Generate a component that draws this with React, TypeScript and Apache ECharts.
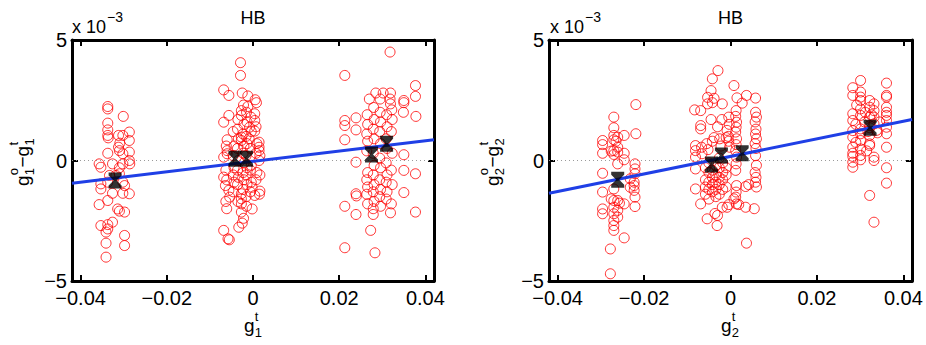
import React, { useEffect, useRef } from 'react';
import * as echarts from 'echarts';

const xTicks = [-0.04, -0.02, 0, 0.02, 0.04];
const xMin = -0.042;
const xMax = 0.042;
const yMin = -5;
const yMax = 5;
const yInterval = 5;
const titles = ['HB', 'HB'];

// y values in units of 1e-3
const leftPoints: number[][] = [
  // cluster near -0.031
  [-0.0337, 2.24], [-0.0337, 2.14], [-0.0301, 1.83], [-0.0337, 1.55], [-0.0337, 1.27], [-0.0337, 1.04],
  [-0.0336, 0.94], [-0.0312, 1.04], [-0.0302, 1.04], [-0.0287, 1.18], [-0.0287, 0.83], [-0.0312, 0.55],
  [-0.0310, 0.41], [-0.0302, 0.28], [-0.0287, 0.35], [-0.0337, 0.30], [-0.0357, -0.14], [-0.0353, -0.28],
  [-0.0326, -0.14], [-0.0302, -0.14], [-0.0287, 0.0], [-0.0286, -0.14], [-0.0353, -0.97], [-0.0353, -1.18],
  [-0.0337, -0.90], [-0.0333, -0.62], [-0.0318, -0.62], [-0.0310, -0.55], [-0.0302, -0.90], [-0.0298, -1.04],
  [-0.0326, -1.36], [-0.0302, -1.36], [-0.0287, -1.38], [-0.0357, -1.83], [-0.0337, -1.66], [-0.0314, -2.01],
  [-0.0310, -2.10], [-0.0298, -2.14], [-0.0353, -2.70], [-0.0337, -2.66], [-0.0337, -2.84], [-0.0341, -2.97],
  [-0.0326, -2.56], [-0.0298, -3.11], [-0.0298, -3.53], [-0.0341, -3.43], [-0.0341, -4.01], [-0.0309, 0.72],
  [-0.0310, -0.30],
  // cluster near -0.003
  [-0.0029, 4.06], [-0.0029, 3.53], [-0.0068, 2.93], [-0.0056, 2.70], [-0.0025, 2.80], [-0.0012, 2.68],
  [0.0005, 2.52], [-0.0012, 2.24], [-0.0027, 2.07], [-0.0027, 1.87], [-0.0056, 1.87], [-0.0068, 1.59],
  [0.0004, 1.94], [0.0004, 1.66], [-0.0008, 1.38], [0.0004, 1.22], [-0.0027, 0.97], [-0.0027, 0.83],
  [-0.0060, 0.86], [-0.0009, 0.90], [0.0014, 0.76], [0.0014, 0.55], [0.0014, 0.41], [0.0014, 0.0],
  [-0.0060, 0.41], [-0.0060, 0.28], [-0.0068, 0.14], [-0.0068, -0.69], [-0.0064, -1.04], [-0.0056, -1.24],
  [-0.0054, -1.52], [-0.0027, -1.38], [-0.0027, -1.59], [-0.0027, -1.80], [-0.0002, -1.11], [0.0016, -1.27],
  [0.0004, -1.45], [-0.0027, -2.14], [-0.0002, -2.01], [-0.0068, -2.90], [-0.0058, -3.25], [-0.0055, -3.29],
  [-0.0033, -2.77], [-0.0025, -2.60],
  [-0.0046, 1.2], [-0.0044, 0.6], [-0.0046, 0.2], [-0.0044, -0.3], [-0.0046, -0.6], [-0.0044, -0.9], [-0.0046, -1.3],
  [-0.0035, 1.7], [-0.0036, 1.3], [-0.0034, 0.9], [-0.0036, 0.5], [-0.0034, 0.0], [-0.0036, -0.4], [-0.0034, -0.7],
  [-0.0036, -1.0], [-0.0035, -1.7],
  [-0.0022, 2.3], [-0.0021, 1.5], [-0.0023, 1.1], [-0.0021, 0.6], [-0.0023, 0.3], [-0.0021, -0.1], [-0.0023, -0.5],
  [-0.0021, -0.8], [-0.0023, -1.2], [-0.0022, -2.4],
  [-0.0015, 2.0], [-0.0014, 1.6], [-0.0016, 1.0], [-0.0014, 0.7], [-0.0016, 0.2], [-0.0014, -0.3], [-0.0016, -0.6],
  [-0.0014, -1.0], [-0.0016, -1.5], [-0.0015, -1.9],
  [-0.0005, 1.8], [-0.0004, 1.2], [-0.0006, 0.5], [-0.0004, -0.2], [-0.0006, -0.4], [-0.0004, -0.9], [-0.0006, -1.3],
  [0.0008, 2.4], [0.0007, 1.4], [0.0009, 0.7], [0.0007, 0.3], [0.0009, -0.5], [0.0007, -0.8],
  [-0.0062, 0.6], [-0.0063, -0.4], [-0.0061, -0.8], [-0.0063, -1.7], [-0.0061, -2.0],
  [0.0016, 0.2], [0.0016, -0.6], [0.0015, -1.4],
  // cluster near 0.029
  [0.0318, 4.50], [0.0213, 3.53], [0.0377, 3.11], [0.0377, 2.66], [0.0378, 1.83], [0.0350, 2.49],
  [0.0350, 2.40], [0.0349, 2.00], [0.0213, 1.66], [0.0213, 1.45], [0.0239, 1.77], [0.0239, 1.27],
  [0.0213, 0.86], [0.0239, -0.07], [0.0213, -1.90], [0.0239, -1.38], [0.0240, -1.47], [0.0239, -2.24],
  [0.0213, -3.62], [0.0283, -3.83], [0.0273, -2.90], [0.0279, -2.24], [0.0319, -2.17], [0.0350, 0.24],
  [0.0350, -0.41], [0.0350, -1.33], [0.0377, -0.55], [0.0377, -2.14],
  [0.0285, 2.80], [0.0302, 2.80], [0.0319, 2.80], [0.0270, 2.55], [0.0295, 2.55], [0.0318, 2.55], [0.0319, 2.35],
  [0.0265, 1.9], [0.0266, 1.5], [0.0264, 1.1], [0.0266, 0.8], [0.0264, 0.4], [0.0266, -0.5], [0.0264, -0.8],
  [0.0266, -1.1], [0.0264, -1.4], [0.0266, -1.8],
  [0.0280, 2.2], [0.0281, 1.7], [0.0279, 1.3], [0.0281, 0.9], [0.0279, 0.3], [0.0281, -0.2], [0.0279, -0.6],
  [0.0281, -1.0], [0.0279, -1.3], [0.0281, -1.7], [0.0279, -2.0],
  [0.0295, 2.0], [0.0296, 1.6], [0.0294, 1.2], [0.0296, 0.7], [0.0294, 0.1], [0.0296, -0.3], [0.0294, -0.8],
  [0.0296, -1.2], [0.0294, -1.5], [0.0296, -1.9],
  [0.0310, 1.9], [0.0311, 1.4], [0.0309, 0.9], [0.0311, 0.5], [0.0309, -0.1], [0.0311, -0.6], [0.0309, -0.9],
  [0.0311, -1.3], [0.0309, -1.6],
  [0.0322, 2.1], [0.0323, 1.7], [0.0321, 1.2], [0.0323, 0.3], [0.0321, -0.4], [0.0323, -1.0], [0.0321, -1.8],
];

const rightPoints: number[][] = [
  // cluster near -0.026
  [-0.0296, 0.83], [-0.0296, 0.66], [-0.0296, 0.30], [-0.0296, -0.53], [-0.0296, -1.31], [-0.0296, -2.01],
  [-0.0296, -2.21], [-0.0270, 1.80], [-0.0270, 1.36], [-0.0270, 1.04], [-0.0270, 0.86], [-0.0270, 0.41],
  [-0.0270, 0.25], [-0.0270, -1.18], [-0.0270, -1.66], [-0.0270, -1.94], [-0.0270, -2.21], [-0.0270, -2.49],
  [-0.0270, -2.70], [-0.0270, -2.90], [-0.0278, -3.67], [-0.0278, -4.70], [-0.0261, 0.97], [-0.0261, 0.55],
  [-0.0261, 0.35], [-0.0261, -0.14], [-0.0261, -1.66], [-0.0261, -2.07], [-0.0261, -2.35], [-0.0246, 1.04],
  [-0.0246, 0.30], [-0.0246, 0.03], [-0.0246, -1.80], [-0.0246, -3.21], [-0.0219, 2.32], [-0.0219, 1.11],
  [-0.0221, -0.14], [-0.0221, -0.35], [-0.0221, -0.55], [-0.0223, -0.90], [-0.0223, -1.04], [-0.0223, -1.24],
  [-0.0221, -1.52], [-0.0221, -1.91], [-0.0232, -0.76], [-0.0232, -1.11], [-0.0276, 0.39], [-0.0276, -1.59],
  [-0.0257, -1.77], [-0.0265, 0.80],
  // cluster near 0
  [-0.0029, 3.73], [-0.0042, 3.39], [0.0008, 3.11], [-0.0045, 2.90], [-0.0053, 2.62], [-0.0038, 2.58],
  [-0.0042, 2.40], [-0.0053, 2.35], [-0.0083, 2.10], [-0.0069, 2.07], [-0.0019, 2.35], [0.0015, 2.60],
  [0.0037, 2.70], [0.0058, 2.59], [0.0027, 2.38],
  [0.0058, 2.0], [0.0060, 1.8], [0.0057, 1.6], [0.0059, 1.3], [0.0058, 1.1], [0.0060, 0.9], [0.0057, 0.7],
  [0.0059, 0.5], [0.0058, 0.2], [0.0060, -0.2], [0.0057, -0.5], [0.0059, -0.7], [0.0058, -0.9], [0.0060, -1.1],
  [0.0013, 2.07], [0.0012, 1.83], [0.0014, 1.59], [0.0013, 1.38], [0.0012, 1.18], [0.0014, 0.90], [0.0013, 0.66],
  [0.0012, 0.41], [0.0014, 0.14], [0.0013, -0.14], [0.0012, -0.41], [0.0014, -1.04], [0.0013, -1.31],
  [0.0012, -1.52], [0.0014, -1.80],
  [-0.0004, 1.8], [-0.0003, 1.5], [-0.0005, 1.0], [-0.0004, 0.8], [-0.0002, 0.55],
  [-0.0069, 1.45], [-0.0069, 1.31], [-0.0081, 0.62], [-0.0081, 0.41], [-0.0081, 0.14], [-0.0081, -0.35],
  [-0.0067, 0.55], [-0.0066, 0.28],
  [-0.0055, 0.7], [-0.0052, 0.45], [-0.0042, 0.8], [-0.0038, 0.95], [-0.0025, 0.9], [-0.0022, 0.6],
  [-0.0010, 0.95], [-0.0030, 1.4], [-0.0045, 1.7], [-0.0020, 1.7], [-0.0008, 1.25],
  [-0.0058, -0.3], [-0.0058, -0.8], [-0.0058, -1.1], [-0.0058, -1.4],
  [-0.0050, -0.1], [-0.0050, -0.5], [-0.0050, -0.9], [-0.0050, -1.2], [-0.0050, -1.6],
  [-0.0042, -0.4], [-0.0042, -0.7], [-0.0042, -1.0], [-0.0042, -1.3],
  [-0.0034, -0.2], [-0.0034, -0.6], [-0.0034, -0.9], [-0.0034, -1.2], [-0.0034, -1.5],
  [-0.0026, 0.1], [-0.0026, -0.3], [-0.0026, -0.7], [-0.0026, -1.0], [-0.0026, -1.4],
  [-0.0018, -0.1], [-0.0018, -0.5], [-0.0018, -0.8], [-0.0018, -1.2],
  [-0.0010, -0.3], [-0.0010, -0.6], [-0.0010, -1.1],
  [-0.0081, -1.18], [-0.0069, -1.80], [-0.0054, -2.42], [-0.0031, -2.70], [-0.0036, -2.20], [-0.0030, -2.28],
  [-0.0019, -1.94], [-0.0008, -1.94], [-0.0004, -1.83], [0.0008, -1.59], [0.0019, -1.83], [0.0035, -1.94],
  [0.0055, -2.0], [0.0035, -1.08], [0.0042, -1.0], [0.0037, -3.43],
  // cluster near 0.032
  [0.0283, 3.02], [0.0283, 2.70], [0.0283, 1.94], [0.0283, 1.66], [0.0283, 1.24], [0.0283, 0.97], [0.0283, 0.55],
  [0.0283, 0.30], [0.0283, 0.17], [0.0283, -0.07], [0.0283, -0.28],
  [0.0301, 3.32], [0.0301, 2.84], [0.0301, 2.63], [0.0301, 2.49], [0.0301, 2.14], [0.0301, 1.87], [0.0301, 1.31],
  [0.0301, 1.11], [0.0301, 0.83], [0.0301, 0.48], [0.0301, 0.21], [0.0301, 0.03],
  [0.0322, 2.49], [0.0322, 2.21], [0.0322, 1.80], [0.0322, 1.45], [0.0322, 1.36], [0.0322, 1.04], [0.0322, 0.69],
  [0.0322, 0.62], [0.0322, -1.45],
  [0.0332, 2.35], [0.0332, 2.07], [0.0332, 1.80], [0.0332, 1.52], [0.0332, 0.14], [0.0332, 0.0], [0.0332, -2.56],
  [0.0361, 3.21], [0.0361, 2.70], [0.0361, 2.63], [0.0361, 2.21], [0.0361, 2.0], [0.0361, 1.87], [0.0361, 1.66],
  [0.0361, 1.38], [0.0361, 1.11], [0.0361, 0.55], [0.0361, -0.30], [0.0361, -0.94],
  [0.0292, 2.3], [0.0310, 1.6], [0.0290, 1.5], [0.0312, 2.0], [0.0318, 1.2], [0.0340, 1.15], [0.0290, 0.75],
  [0.0315, 0.40], [0.0338, 1.25], [0.0345, 1.6], [0.0326, 1.9],
];

const leftMeans: number[][] = [[-0.0320, -0.83], [-0.0042, 0.07], [-0.0015, 0.07], [0.0275, 0.25], [0.0310, 0.69]];
const rightMeans: number[][] = [[-0.0261, -0.80], [-0.0044, -0.17], [-0.0021, 0.21], [0.0027, 0.30], [0.0323, 1.36]];
const leftFit: number[][] = [[-0.042, -0.94], [0.042, 0.86]];
const rightFit: number[][] = [[-0.042, -1.36], [0.042, 1.70]];
const zeroLine: number[][] = [[-0.042, 0], [0.042, 0]];

const FONT = "'Liberation Sans', Arial, Helvetica, sans-serif";
const HOURGLASS = 'path://M0,0 L13,0 L13,3 L8,8 L13,13 L13,16 L0,16 L0,13 L5,8 L0,3 Z';

const fmtX = (v: number) => {
  const r = Math.round(v * 1e4) / 1e4;
  if (r === 0) return '0';
  return (r < 0 ? '\u2212' : '') + String(Math.abs(r));
};
const fmtY = (v: number) => (v === 0 ? '0' : (v < 0 ? '\u2212' : '') + String(Math.abs(v)));

function makeXAxes(gridIndex: number) {
  const base = {
    type: 'value', gridIndex, min: xMin, max: xMax,
    axisLine: { show: true, onZero: false, lineStyle: { color: '#000', width: 3 } },
    axisTick: { show: true, inside: true, length: 6, customValues: xTicks, lineStyle: { color: '#000', width: 2 } },
    splitLine: { show: false },
  };
  return [
    { ...base, position: 'bottom',
      axisLabel: { show: true, customValues: xTicks, formatter: fmtX, fontSize: 20, lineHeight: 14, color: '#000', fontFamily: FONT, margin: 10 } },
    { ...base, position: 'top', axisLabel: { show: false } },
  ];
}
function makeYAxes(gridIndex: number) {
  const base = {
    type: 'value', gridIndex, min: yMin, max: yMax, interval: yInterval,
    axisLine: { show: true, onZero: false, lineStyle: { color: '#000', width: 3 } },
    axisTick: { show: true, inside: true, length: 6, lineStyle: { color: '#000', width: 2 } },
    splitLine: { show: false },
  };
  return [
    { ...base, position: 'left',
      axisLabel: { show: true, formatter: fmtY, fontSize: 20, lineHeight: 14, color: '#000', fontFamily: FONT, margin: 5 } },
    { ...base, position: 'right', axisLabel: { show: false } },
  ];
}

function makeSeries(axisIndex: number, points: number[][], means: number[][], fit: number[][]) {
  return [
    { type: 'line', xAxisIndex: axisIndex, yAxisIndex: axisIndex, data: zeroLine, symbol: 'none', silent: true,
      lineStyle: { color: '#9a9a9a', width: 1, type: [1, 3] }, z: 1 },
    { type: 'scatter', xAxisIndex: axisIndex, yAxisIndex: axisIndex, data: points, symbol: 'circle', symbolSize: 10, silent: true,
      itemStyle: { color: 'rgba(255,255,255,0)', borderColor: '#ff0000', borderWidth: 1 }, z: 2 },
    { type: 'line', xAxisIndex: axisIndex, yAxisIndex: axisIndex, data: fit, symbol: 'none', silent: true,
      lineStyle: { color: '#1f3fe6', width: 3 }, z: 3 },
    { type: 'scatter', xAxisIndex: axisIndex, yAxisIndex: axisIndex, data: means, symbol: HOURGLASS, symbolSize: [13, 16], silent: true,
      itemStyle: { color: '#000' }, z: 4 },
  ];
}

function txt(x: number, y: number, text: string, fontSize: number, align = 'left') {
  return { type: 'text', x, y, style: { text, fontSize, fontFamily: FONT, fill: '#000', align, verticalAlign: 'middle' } };
}

function yLabel(x: number, y: number, sub: string) {
  return {
    type: 'group', x, y, rotation: Math.PI / 2,
    children: [
      txt(0, 0, 'g', 19), txt(10.8, 7.5, sub, 13), txt(10.8, -8.5, 'o', 13),
      txt(18.5, 0, '\u2212g', 19), txt(40.5, 7.5, sub, 13), txt(40.5, -8.5, 't', 13),
    ],
  };
}

function xLabel(x: number, y: number, sub: string) {
  return {
    type: 'group', x, y,
    children: [txt(0, 0, 'g', 19), txt(10.8, 7.5, sub, 13), txt(10.8, -8.5, 't', 13)],
  };
}

export default function App() {
  const ref = useRef<HTMLDivElement>(null);
  useEffect(() => {
    if (!ref.current) return;
    const chart = echarts.init(ref.current, undefined, { renderer: 'svg' });
    chart.setOption({
      animation: false,
      grid: [
        { left: 72, top: 40, width: 362, height: 241 },
        { left: 549, top: 40, width: 363, height: 241 },
      ],
      xAxis: [...makeXAxes(0), ...makeXAxes(1)],
      yAxis: [...makeYAxes(0), ...makeYAxes(1)],
      series: [
        ...makeSeries(0, leftPoints, leftMeans, leftFit),
        ...makeSeries(2, rightPoints, rightMeans, rightFit),
      ],
      graphic: [
        txt(253, 17.5, titles[0], 18, 'center'),
        txt(730.5, 17.5, titles[1], 18, 'center'),
        txt(72, 26.5, 'x 10', 18), txt(107, 16.5, '\u22123', 14),
        txt(550, 26.5, 'x 10', 18), txt(585, 16.5, '\u22123', 14),
        yLabel(22, 186, '1'),
        yLabel(492, 186, '2'),
        xLabel(244, 325, '1'),
        xLabel(721, 325, '2'),
      ],
    });
    return () => chart.dispose();
  }, []);
  return <div ref={ref} style={{ position: 'absolute', left: 0, top: 0, width: 926, height: 345 }} />;
}
